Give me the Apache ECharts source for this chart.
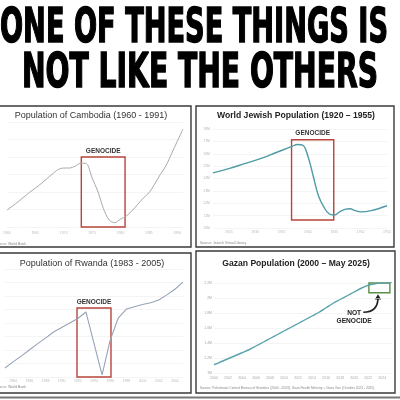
<!DOCTYPE html>
<html><head><meta charset="utf-8">
<script src="https://cdn.jsdelivr.net/npm/echarts@6/dist/echarts.min.js"></script>
<style>html,body{margin:0;padding:0;background:#fff}#c{width:400px;height:400px}</style>
</head><body><div id="c"></div>
<script>
// ---------- DATA ----------
const headline1 = 'ONE OF THESE THINGS IS';
const headline2 = 'NOT LIKE THE OTHERS';

const cambodiaTitle = 'Population of Cambodia (1960 - 1991)';
const cambodiaYears = [1960,1961,1962,1963,1964,1965,1966,1967,1968,1969,1970,1971,1972,1973,1974,1975,1976,1977,1978,1979,1980,1981,1982,1983,1984,1985,1986,1987,1988,1989,1990,1991];
const cambodiaPop = [5.97,6.2,6.45,6.72,6.98,7.22,7.47,7.75,8.02,8.28,8.37,8.37,8.47,8.65,8.62,7.8,7.05,6.05,5.4,5.25,5.45,5.62,5.92,6.28,6.65,6.95,7.45,8.0,8.5,9.2,9.9,10.6];
const cambodiaBox = [1973.1, 1980.8, 5.0, 9.0];

const jewishTitle = 'World Jewish Population (1920 \u2013 1955)';
const jewishYears = [1922,1925,1928,1931,1934,1937,1938,1939,1940,1941,1942,1943,1944,1945,1946,1947,1948,1949,1950,1952,1955];
const jewishPop = [14.45,14.8,15.2,15.6,16.1,16.6,16.75,16.7,15.8,14.2,12.6,11.7,11.15,11.05,11.3,11.5,11.55,11.4,11.3,11.4,11.8];
const jewishTicks = [1925,1930,1935,1940,1945,1950,1955];
const jewishBox = [1936.9, 1944.9, 10.65, 17.13];

const rwandaTitle = 'Population of Rwanda (1983 - 2005)';
const rwandaYears = [1983,1984,1985,1986,1987,1988,1989,1990,1991,1992,1993,1994,1995,1996,1997,1998,1999,2000,2001,2002,2003,2004,2005];
const rwandaPop = [5.2,5.47,5.73,6.0,6.27,6.53,6.8,7.0,7.2,7.4,7.69,6.29,4.89,6.44,7.42,7.82,7.92,8.02,8.1,8.22,8.45,8.7,9.02];
const rwandaTicks = [1984,1986,1988,1990,1992,1994,1996,1998,2000,2002,2004];
const rwandaBox = [1991.9, 1996.1, 4.8, 7.87];

const gazaTitle = 'Gazan Population (2000 \u2013 May 2025)';
const gazaYears = [2000,2001,2002,2003,2004,2005,2006,2007,2008,2009,2010,2011,2012,2013,2014,2015,2016,2017,2018,2019,2020,2021,2022,2023,2024,2025.4];
const gazaPop = [1.11,1.15,1.19,1.23,1.27,1.31,1.36,1.41,1.46,1.51,1.56,1.61,1.66,1.71,1.76,1.81,1.87,1.93,1.98,2.03,2.08,2.13,2.17,2.19,2.2,2.21];
const gazaBox = [2022.1, 2025.1, 2.07, 2.27];
const gazaNote = 'NOT\nGENOCIDE';
const gazaNotePos = [2020, 1.75];
// arrow: start, bend (control), end — in data units
const gazaArrow = [[2021.3, 1.81], [2023.4, 1.81], [2023.4, 2.03]];

const genocideLabel = 'GENOCIDE';
const sources = ['Source: World Bank', 'Source: Jewish Virtual Library', 'Source: World Bank',
  'Source: Palestinian Central Bureau of Statistics (2000 - 2023), Gaza Health Ministry + Gaza Gov (October 2023 - 2025)'];

// ---------- BUILD ----------
const zip = (a, b) => a.map((v, i) => [v, b[i]]);
const chart = echarts.init(document.getElementById('c'), null, {renderer: 'canvas'});

const headFont = 'bold 48px "Liberation Sans Narrow", "DejaVu Sans Condensed", sans-serif';
const ctx = document.createElement('canvas').getContext('2d');
ctx.font = headFont;
const w1 = ctx.measureText(headline1).width;
const w2 = ctx.measureText(headline2).width;

const yearFmt = v => String(Math.round(v));
const tickLbl = {fontSize: 3.5, color: '#bbb', fontFamily: 'Liberation Sans'};
const gridLine = {show: true, lineStyle: {color: '#ececec', width: 0.6}};
const red = '#b8443c';

function boxArea(b, color) {
  return {
    silent: true,
    itemStyle: {color: 'rgba(0,0,0,0)', borderColor: color, borderWidth: 1.4},
    label: {show: true, position: 'top', distance: 2, fontSize: 6.5, fontWeight: 'bold', color: '#333', fontFamily: 'Liberation Sans'},
    data: [[{xAxis: b[0], yAxis: b[3], name: color === red ? genocideLabel : ''}, {xAxis: b[1], yAxis: b[2]}]]
  };
}

const staticGraphics = [
  {type: 'text', x: 194, y: 30, scaleX: 388 / w1, style: {text: headline1, font: headFont, fill: '#000', stroke: '#000', lineWidth: 1.5, textAlign: 'center', textVerticalAlign: 'middle'}},
  {type: 'text', x: 200, y: 75, scaleX: 356 / w2, style: {text: headline2, font: headFont, fill: '#000', stroke: '#000', lineWidth: 1.5, textAlign: 'center', textVerticalAlign: 'middle'}},
  {type: 'rect', shape: {x: -2, y: 106, width: 193, height: 141}, style: {fill: 'none', stroke: '#3a3a3a', lineWidth: 1.4}},
  {type: 'rect', shape: {x: 196, y: 106, width: 198, height: 141}, style: {fill: 'none', stroke: '#3a3a3a', lineWidth: 1.4}},
  {type: 'rect', shape: {x: -2, y: 253, width: 193, height: 140}, style: {fill: 'none', stroke: '#3a3a3a', lineWidth: 1.4}},
  {type: 'rect', shape: {x: 196, y: 251, width: 199, height: 142}, style: {fill: 'none', stroke: '#3a3a3a', lineWidth: 1.4}},
  {type: 'line', shape: {x1: 0, y1: 397.5, x2: 400, y2: 397.5}, style: {stroke: '#777', lineWidth: 2}},
  {type: 'text', x: 91, y: 116, style: {text: cambodiaTitle, font: '9px "Liberation Sans", Arial, sans-serif', fill: '#333', textAlign: 'center', textVerticalAlign: 'middle'}},
  {type: 'text', x: 296, y: 116, style: {text: jewishTitle, font: 'bold 8.6px "Liberation Sans", Arial, sans-serif', fill: '#222', textAlign: 'center', textVerticalAlign: 'middle'}},
  {type: 'text', x: 92, y: 264, style: {text: rwandaTitle, font: '9px "Liberation Sans", Arial, sans-serif', fill: '#333', textAlign: 'center', textVerticalAlign: 'middle'}},
  {type: 'text', x: 296, y: 264, style: {text: gazaTitle, font: 'bold 8.6px "Liberation Sans", Arial, sans-serif', fill: '#222', textAlign: 'center', textVerticalAlign: 'middle'}},
  {type: 'text', x: -5, y: 244, style: {text: sources[0], font: '3.5px "Liberation Sans", sans-serif', fill: '#888', textVerticalAlign: 'middle'}},
  {type: 'text', x: 200, y: 243, style: {text: sources[1], font: '3.5px "Liberation Sans", sans-serif', fill: '#888', textVerticalAlign: 'middle'}},
  {type: 'text', x: -5, y: 387, style: {text: sources[2], font: '3.5px "Liberation Sans", sans-serif', fill: '#888', textVerticalAlign: 'middle'}},
  {type: 'text', x: 200, y: 388, style: {text: sources[3], font: '3.3px "Liberation Sans", sans-serif', fill: '#888', textVerticalAlign: 'middle'}}
];

const option = {
  animation: false,
  backgroundColor: '#fff',
  grid: [
    {left: 4, right: 217, top: 122, bottom: 173},
    {left: 213, right: 13, top: 129, bottom: 172},
    {left: 5, right: 217, top: 269, bottom: 23},
    {left: 214, right: 8, top: 283, bottom: 27}
  ],
  xAxis: [
    {type: 'value', gridIndex: 0, min: 1960, max: 1991, interval: 5, splitLine: {show: false}, axisLine: {show: false}, axisTick: {show: false}, axisLabel: Object.assign({margin: 4, formatter: yearFmt, showMaxLabel: false}, tickLbl)},
    {type: 'value', gridIndex: 1, min: 1922, max: 1955, splitLine: {show: false}, axisLine: {show: false}, axisTick: {show: false}, axisLabel: Object.assign({margin: 2, customValues: jewishTicks, formatter: yearFmt}, tickLbl)},
    {type: 'value', gridIndex: 2, min: 1983, max: 2005, splitLine: {show: false}, axisLine: {show: false}, axisTick: {show: false}, axisLabel: Object.assign({margin: 2, customValues: rwandaTicks, formatter: yearFmt}, tickLbl)},
    {type: 'value', gridIndex: 3, min: 2000, max: 2025.4, interval: 2, splitLine: {show: false}, axisLine: {show: false}, axisTick: {show: false}, axisLabel: Object.assign({margin: 3, showMaxLabel: false, formatter: yearFmt}, tickLbl, {color: '#aaa'})}
  ],
  yAxis: [
    {type: 'value', gridIndex: 0, min: 5, max: 11, interval: 1, splitLine: gridLine, axisLine: {show: false}, axisTick: {show: false}, axisLabel: {show: false}},
    {type: 'value', gridIndex: 1, min: 10, max: 18, interval: 1, splitLine: gridLine, axisLine: {show: false}, axisTick: {show: false}, axisLabel: Object.assign({margin: 3, formatter: v => v + 'M'}, tickLbl)},
    {type: 'value', gridIndex: 2, min: 4.8, max: 9.6, interval: 0.6, splitLine: gridLine, axisLine: {show: false}, axisTick: {show: false}, axisLabel: {show: false}},
    {type: 'value', gridIndex: 3, min: 1, max: 2.2, interval: 0.2, splitLine: gridLine, axisLine: {show: false}, axisTick: {show: false}, axisLabel: Object.assign({margin: 2, formatter: v => (+v.toFixed(1)) + 'M'}, tickLbl, {color: '#aaa'})}
  ],
  series: [
    {type: 'line', xAxisIndex: 0, yAxisIndex: 0, data: zip(cambodiaYears, cambodiaPop), smooth: 0.3, showSymbol: false, lineStyle: {color: '#a8a8a8', width: 1}, markArea: boxArea(cambodiaBox, red)},
    {type: 'line', xAxisIndex: 1, yAxisIndex: 1, data: zip(jewishYears, jewishPop), smooth: 0.4, showSymbol: false, lineStyle: {color: '#4f9ba5', width: 1.4}, markArea: boxArea(jewishBox, red)},
    {type: 'line', xAxisIndex: 2, yAxisIndex: 2, data: zip(rwandaYears, rwandaPop), smooth: false, showSymbol: false, lineStyle: {color: '#97a3b6', width: 1.1}, markArea: boxArea(rwandaBox, red)},
    {type: 'line', xAxisIndex: 3, yAxisIndex: 3, data: zip(gazaYears, gazaPop), smooth: 0.3, showSymbol: false, lineStyle: {color: '#5aa3ad', width: 1.4},
      markArea: boxArea(gazaBox, '#5b8f48'),
      markPoint: {silent: true, symbol: 'circle', symbolSize: 0,
        label: {show: true, position: 'inside', formatter: gazaNote, fontSize: 6.6, fontWeight: 'bold', color: '#222', lineHeight: 8, fontFamily: 'Liberation Sans'},
        data: [{coord: gazaNotePos}]}
    }
  ],
  graphic: staticGraphics
};
chart.setOption(option);

// curved arrow placed from data coordinates of the Gaza chart
const px = gazaArrow.map(p => chart.convertToPixel({gridIndex: 3}, p));
const [a, c, b] = px;
const head = 3.2;
chart.setOption({graphic: staticGraphics.concat([
  {type: 'bezierCurve', shape: {x1: a[0], y1: a[1], cpx1: c[0], cpy1: c[1], x2: b[0], y2: b[1] + 2}, style: {stroke: '#222', lineWidth: 1.7, fill: 'none'}},
  {type: 'polygon', shape: {points: [[b[0], b[1] - 1.5], [b[0] - head, b[1] + head + 0.5], [b[0] + head, b[1] + head + 0.5]]}, style: {fill: '#222'}}
])});
</script>
</body></html>
